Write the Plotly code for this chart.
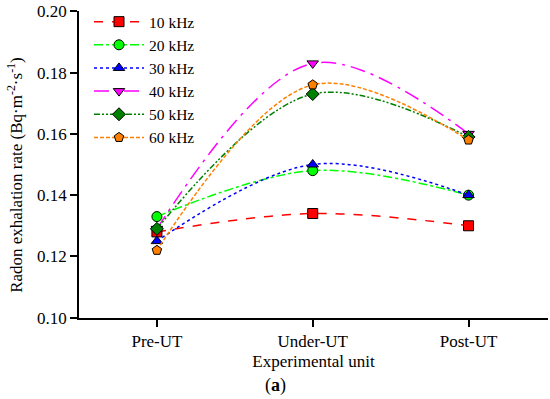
import plotly.graph_objects as go

categories = ["Pre-UT", "Under-UT", "Post-UT"]
series_names = ["10 kHz", "20 kHz", "30 kHz", "40 kHz", "50 kHz", "60 kHz"]
v10 = [0.128, 0.134, 0.130]
v20 = [0.133, 0.148, 0.140]
v30 = [0.125, 0.150, 0.140]
v40 = [0.129, 0.183, 0.160]
v50 = [0.129, 0.173, 0.159]
v60 = [0.122, 0.176, 0.158]
y_ticks = [0.10, 0.12, 0.14, 0.16, 0.18, 0.20]

values = [v10, v20, v30, v40, v50, v60]
colors = ["#ff0000", "#00ff00", "#0000ff", "#ff00ff", "#008000", "#ff8000"]
dashes = ["dash", "dashdot", "dot", "longdashdot", "6px,2px,2px,2px,2px,2px", "4px,2px"]
symbols = ["square", "circle", "triangle-up", "triangle-down", "diamond", "pentagon"]

fig = go.Figure()
for name, vals, c, d, s in zip(series_names, values, colors, dashes, symbols):
    fig.add_trace(go.Scatter(
        x=[0, 1, 2], y=vals, name=name, mode="lines+markers",
        line=dict(color=c, dash=d, width=1.5, shape="spline", smoothing=1.0),
        marker=dict(symbol=s, size=10, color=c, line=dict(color="black", width=1)),
    ))

font = "Liberation Serif"
PT, PB, PL = 7, 318, 79   # plot area top, bottom, left (pixels)
PH = PB - PT
PW = 550 - 2 - PL
fig.update_layout(
    width=550, height=399,
    margin=dict(l=PL, r=2, t=PT, b=399 - PB),
    paper_bgcolor="white", plot_bgcolor="white",
    font=dict(family=font, size=17, color="black"),
    showlegend=True,
    legend=dict(x=(89 - PL) / PW, y=1 + (PT - 1) / PH, xanchor="left", yanchor="top",
                bgcolor="rgba(0,0,0,0)", font=dict(size=15.5, family=font),
                itemwidth=50, tracegroupgap=0),
    xaxis=dict(range=[-0.5, 2.51], tickvals=[0, 1, 2], ticktext=categories,
               showline=True, linecolor="black", linewidth=1.5,
               ticks="outside", ticklen=7, tickwidth=1.5, tickcolor="black",
               showgrid=False, zeroline=False,
               tickfont=dict(size=17, family=font),
               title=dict(text="Experimental unit", font=dict(size=17, family=font), standoff=5)),
    yaxis=dict(range=[0.0999, 0.2001], tickvals=y_ticks, tickformat=".2f",
               ticklabeloverflow="allow",
               showline=True, linecolor="black", linewidth=1.5,
               ticks="outside", ticklen=7, tickwidth=1.5, tickcolor="black",
               showgrid=False, zeroline=False,
               tickfont=dict(size=17, family=font)),
)
fig.add_annotation(text="Radon exhalation rate (Bq·m<sup>-2</sup>·s<sup>-1</sup>)",
                   textangle=-90, xref="paper", yref="paper",
                   x=(15 - PL) / PW, y=1 - (173 - PT) / PH, xanchor="center", yanchor="middle",
                   showarrow=False, font=dict(size=17, family=font))
fig.add_annotation(text="(<b>a</b>)", xref="paper", yref="paper",
                   x=(275 - PL) / PW, y=-(386 - PB) / PH, xanchor="center", yanchor="middle",
                   showarrow=False, font=dict(size=18, family=font))
fig.write_html("out.html", config={"displayModeBar": False},
               post_script="document.body.style.margin='0';document.body.style.padding='0';")
